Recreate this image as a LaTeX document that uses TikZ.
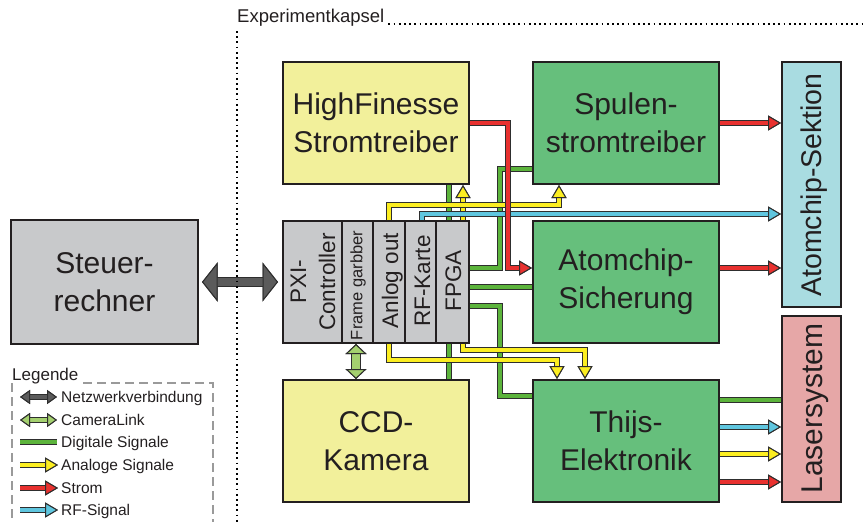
\documentclass[tikz,border=0pt]{standalone}
\usepackage{fontspec}
\setmainfont{Liberation Sans}
\usetikzlibrary{arrows.meta,calc}
\definecolor{boxborder}{HTML}{231F20}
\definecolor{txt}{HTML}{231F20}
\definecolor{wireborder}{HTML}{2E2E2E}
\definecolor{yellowbox}{HTML}{F2F09B}
\definecolor{greenbox}{HTML}{66BF7C}
\definecolor{graybox}{HTML}{C8C9CB}
\definecolor{bluebox}{HTML}{A9DCE1}
\definecolor{pinkbox}{HTML}{E6A7A7}
\definecolor{wgreen}{HTML}{5CB43C}
\definecolor{wyellow}{HTML}{FCEE21}
\definecolor{wred}{HTML}{E8312F}
\definecolor{wcyan}{HTML}{5FC6DF}
\definecolor{netgray}{HTML}{5B5B5B}
\definecolor{camgreen}{HTML}{A4D06F}
\definecolor{legdash}{HTML}{9A9A9A}
\begin{document}
\begin{tikzpicture}[x=1pt,y=-1pt,
  box/.style={draw=boxborder,line width=2pt,inner sep=0pt,text=txt,align=center,font=\fontsize{30}{38}\selectfont},
  vtext/.style={rotate=90,inner sep=0pt,text=txt,text depth=0pt},
  wire/.style={line width=4pt,draw=#1,line join=miter,preaction={draw=wireborder,line width=6pt,line join=miter}},
  tipped/.style={arrows={-Triangle[length=13pt,width=15pt,line width=1pt,color=wireborder,fill=#1]}},
  netarrow/.style={line width=8pt,draw=netgray,preaction={draw=wireborder,line width=10pt},
    arrows={Triangle[length=15.5pt,width=39pt,line width=1pt,color=wireborder,fill=netgray]-Triangle[length=15.5pt,width=39pt,line width=1pt,color=wireborder,fill=netgray]}},
  camarrow/.style={line width=8pt,draw=camgreen,preaction={draw=wireborder,line width=10pt},
    arrows={Triangle[length=10pt,width=21pt,line width=1pt,color=wireborder,fill=camgreen]-Triangle[length=10pt,width=21pt,line width=1pt,color=wireborder,fill=camgreen]}},
  legdbl/.style={line width=4pt,draw=#1,preaction={draw=wireborder,line width=6pt},
    arrows={Triangle[length=10pt,width=14pt,line width=1pt,color=wireborder,fill=#1]-Triangle[length=10pt,width=14pt,line width=1pt,color=wireborder,fill=#1]}},
  legtext/.style={anchor=base west,inner sep=0pt,text=txt,font=\fontsize{15.5}{18}\selectfont},
  dotline/.style={draw=black,line width=2pt,dash pattern=on 1.8pt off 3.4pt},
  legline/.style={draw=legdash,line width=2pt,dash pattern=on 9pt off 5pt}
]
\useasboundingbox (0,0) rectangle (864,522);

% ---------------- boxes ----------------
\node[box,fill=graybox,minimum width=187pt,minimum height=124pt] (steuer) at (104.5,282) {Steuer-\\rechner};
\node[box,fill=yellowbox,minimum width=186pt,minimum height=122pt] (hf) at (376,123) {HighFinesse\\Stromtreiber};
\node[box,fill=graybox,minimum width=186pt,minimum height=122pt] (pxi) at (376,282) {};
\node[box,fill=yellowbox,minimum width=186pt,minimum height=122pt] (ccd) at (376,441) {CCD-\\Kamera};
\node[box,fill=greenbox,minimum width=186pt,minimum height=122pt] (spulen) at (626,123) {Spulen-\\stromtreiber};
\node[box,fill=greenbox,minimum width=186pt,minimum height=122pt] (sicher) at (626,282) {Atomchip-\\Sicherung};
\node[box,fill=greenbox,minimum width=186pt,minimum height=122pt] (thijs) at (626,441) {Thijs-\\Elektronik};
\node[box,fill=bluebox,minimum width=59pt,minimum height=245pt] (sektion) at (811.5,184.5) {};
\node[box,fill=pinkbox,minimum width=59pt,minimum height=186pt] (laser) at (811.5,409) {};

% PXI dividers and labels
\foreach \dx in {60,91,123,154}
  \draw[boxborder,line width=1.2pt] ($(pxi.north west)+(\dx,0)$) -- ($(pxi.south west)+(\dx,0)$);
\node[rotate=90,inner sep=0pt,text=txt,align=center,font=\fontsize{22.5}{29}\selectfont] (pxictl) at (313,282) {PXI-\\Controller};
\node[vtext,font=\fontsize{16.5}{20}\selectfont,text height=11.9pt] (frame) at (356.5,285.5) {Frame garbber};
\node[vtext,font=\fontsize{22.5}{27}\selectfont,text height=16.2pt] (anlog) at (390,280.5) {Anlog out};
\node[vtext,font=\fontsize{22.5}{27}\selectfont,text height=16.2pt] (rfk) at (422,281) {RF-Karte};
\node[vtext,font=\fontsize{22.5}{27}\selectfont,text height=16.2pt] (fpga) at (453,281) {FPGA};
\node[vtext,font=\fontsize{28.5}{34}\selectfont,text height=20.5pt] (sektiontxt) at (811.5,185) {Atomchip-Sektion};
\node[vtext,font=\fontsize{30}{36}\selectfont,text height=21.6pt] (lasertxt) at (811.5,408.5) {Lasersystem};

% ---------------- wires ----------------
% digital (green)
\draw[wire=wgreen] ($(pxi.east)+(0,-14)$) -- ++(30,0) |- ($(spulen.west)+(0,46)$);
\draw[wire=wgreen] ($(pxi.east)+(0,5)$) -- ($(sicher.west)+(0,5)$);
\draw[wire=wgreen] ($(pxi.east)+(0,24)$) -- ++(30,0) |- ($(thijs.west)+(0,-45)$);
\draw[wire=wgreen] ($(pxi.north)+(73,0)$) -- ($(hf.south)+(73,0)$);
\draw[wire=wgreen] ($(pxi.south)+(73,0)$) -- ($(ccd.north)+(73,0)$);
% analog (yellow)
\draw[wire=wyellow,tipped=wyellow] ($(pxi.north)+(87,0)$) -- ($(hf.south)+(87,0)$);
\draw[wire=wyellow,tipped=wyellow] ($(pxi.north)+(13,0)$) -- ++(0,-15) -| ($(spulen.south)+(-67,0)$);
\draw[wire=wyellow,tipped=wyellow] ($(pxi.south)+(13,0)$) -- ++(0,16) -| ($(thijs.north)+(-69,0)$);
\draw[wire=wyellow,tipped=wyellow] ($(pxi.south)+(87,0)$) -- ++(0,6) -| ($(thijs.north)+(-41,0)$);
% RF (cyan)
\coordinate (rfB) at ($(sektion.west)+(0,29.5)$);
\draw[wire=wcyan,tipped=wcyan] ($(pxi.north)+(46,0)$) |- (rfB);
% current (red)
\draw[wire=wred,tipped=wred] (hf.east) -- ++(38,0) |- ($(sicher.west)+(0,-14)$);
\draw[wire=wred,tipped=wred] (spulen.east) -- (spulen.east -| sektion.west);
\coordinate (s2) at ($(sicher.east)+(0,-14)$);
\draw[wire=wred,tipped=wred] (s2) -- (s2 -| sektion.west);
% Thijs -> Laser
\coordinate (t1) at ($(thijs.east)+(0,-41)$);
\coordinate (t2) at ($(thijs.east)+(0,-14)$);
\coordinate (t3) at ($(thijs.east)+(0,13)$);
\coordinate (t4) at ($(thijs.east)+(0,41)$);
\draw[wire=wgreen] (t1) -- (t1 -| laser.west);
\draw[wire=wcyan,tipped=wcyan] (t2) -- (t2 -| laser.west);
\draw[wire=wyellow,tipped=wyellow] (t3) -- (t3 -| laser.west);
\draw[wire=wred,tipped=wred] (t4) -- (t4 -| laser.west);

% network and camera link
\draw[netarrow] ($(steuer.east)+(3,0)$) -- ($(pxi.west)+(-4,0)$);
\draw[camarrow] ($(pxi.south)+(-20,0)$) -- ($(ccd.north)+(-20,0)$);

% ---------------- Experimentkapsel frame ----------------
\node[anchor=base west,inner sep=0pt,text=txt,font=\fontsize{18.5}{22}\selectfont] (kapsel) at (237,22.7) {Experimentkapsel};
\coordinate (kapR) at (864,24);
\coordinate (kapTop) at (237,31);
\coordinate (kapBot) at (237,522);
\draw[dotline] ($(kapsel.base east)+(4,1.3)$) -- (kapR);
\draw[dotline] (kapTop) -- (kapBot);

% ---------------- legend ----------------
\node[anchor=base west,inner sep=0pt,text=txt,font=\fontsize{17}{20}\selectfont] (legtitle) at (12,380) {Legende};
\coordinate (lgTL) at (12,383);
\coordinate (lgBL) at (12,522);
\coordinate (lgT) at (83,383);
\coordinate (lgTR) at (213,383);
\coordinate (lgBR) at (213,522);
\draw[legline] (lgTL) -- (lgBL);
\draw[legline] (lgT) -- (lgTR) -- (lgBR);

\coordinate (la1) at (20,397); \coordinate (lb1) at (57,397);
\coordinate (la2) at (20,420); \coordinate (lb2) at (57,420);
\coordinate (la3) at (20,442); \coordinate (lb3) at (57,442);
\coordinate (la4) at (20,465); \coordinate (lb4) at (58,465);
\coordinate (la5) at (20,488); \coordinate (lb5) at (58,488);
\coordinate (la6) at (20,510); \coordinate (lb6) at (58,510);
\draw[legdbl=netgray] (la1) -- (lb1);
\draw[legdbl=camgreen] (la2) -- (lb2);
\draw[wire=wgreen] (la3) -- (lb3);
\draw[wire=wyellow,tipped=wyellow] (la4) -- (lb4);
\draw[wire=wred,tipped=wred] (la5) -- (lb5);
\draw[wire=wcyan,tipped=wcyan] (la6) -- (lb6);
\node[legtext] (lt1) at (61,402.5) {Netzwerkverbindung};
\node[legtext] (lt2) at (61,425.5) {CameraLink};
\node[legtext] (lt3) at (61,447.5) {Digitale Signale};
\node[legtext] (lt4) at (61,470.5) {Analoge Signale};
\node[legtext] (lt5) at (61,493.5) {Strom};
\node[legtext] (lt6) at (61,515.5) {RF-Signal};
\end{tikzpicture}
\end{document}
